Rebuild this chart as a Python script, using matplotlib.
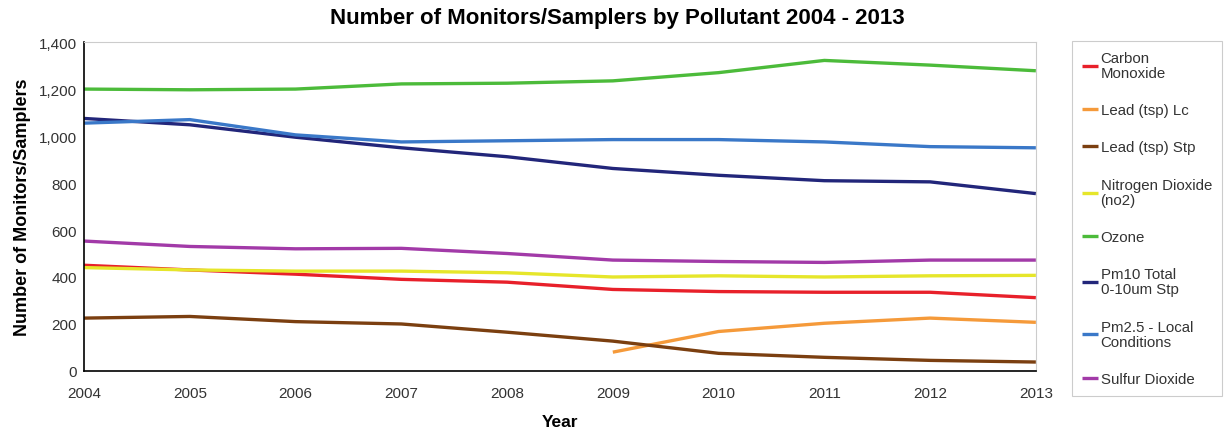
import matplotlib.pyplot as plt

years = [2004, 2005, 2006, 2007, 2008, 2009, 2010, 2011, 2012, 2013]
lead_lc_years = [2009, 2010, 2011, 2012, 2013]

carbon_monoxide = [450, 430, 412, 390, 378, 347, 338, 335, 335, 312]
lead_lc = [80, 168, 203, 225, 207]
lead_stp = [225, 232, 210, 200, 165, 127, 75, 58, 45, 38]
nitrogen_dioxide = [440, 430, 425, 425, 418, 400, 405, 400, 405, 407]
ozone = [1200, 1197, 1200, 1222, 1225, 1235, 1270, 1322, 1302, 1278]
pm10 = [1075, 1048, 995, 950, 912, 862, 833, 810, 805, 755]
pm25 = [1055, 1070, 1005, 975, 980, 985, 985, 975, 955, 950]
sulfur_dioxide = [553, 530, 520, 522, 500, 472, 466, 462, 472, 472]

series = [
    ("Carbon\nMonoxide", years, carbon_monoxide, "#e8202a"),
    ("Lead (tsp) Lc", lead_lc_years, lead_lc, "#f59a3a"),
    ("Lead (tsp) Stp", years, lead_stp, "#7b3f10"),
    ("Nitrogen Dioxide\n(no2)", years, nitrogen_dioxide, "#e6e62a"),
    ("Ozone", years, ozone, "#4cbb3a"),
    ("Pm10 Total\n0-10um Stp", years, pm10, "#22267a"),
    ("Pm2.5 - Local\nConditions", years, pm25, "#3a78c8"),
    ("Sulfur Dioxide", years, sulfur_dioxide, "#a23aa8"),
]

plt.rcParams["font.family"] = ["Liberation Sans", "DejaVu Sans"]

fig = plt.figure(figsize=(12.25, 4.31), dpi=100)
ax = fig.add_axes([0.0686, 0.137, 0.777, 0.763])

for label, xs, ys, color in series:
    ax.plot(xs, ys, color=color, linewidth=2.4, label=label, solid_capstyle="butt")

ax.set_xlim(2004, 2013)
ax.set_ylim(0, 1400)
ax.set_xticks(years)
ax.set_yticks(range(0, 1401, 200))
ax.set_yticklabels([f"{v:,}" for v in range(0, 1401, 200)])
ax.tick_params(length=0, labelsize=11, colors="#333333")
ax.tick_params(axis="x", pad=11)
ax.tick_params(axis="y", pad=5)

for side in ("top", "right"):
    ax.spines[side].set_color("#cccccc")
    ax.spines[side].set_linewidth(0.8)
for side in ("left", "bottom"):
    ax.spines[side].set_color("black")
    ax.spines[side].set_linewidth(1.2)

fig.text(0.504, 0.957, "Number of Monitors/Samplers by Pollutant 2004 - 2013",
         fontsize=16, fontweight="bold", ha="center", va="center")
ax.set_xlabel("Year", fontsize=12.5, fontweight="bold", labelpad=10)
ax.set_ylabel("Number of Monitors/Samplers", fontsize=13, fontweight="bold", labelpad=6)

leg = ax.legend(loc="upper left", bbox_to_anchor=(1.038, 1.003), fontsize=10.8,
                handlelength=1.05, handletextpad=0.2, labelspacing=1.55,
                borderpad=0.65, borderaxespad=0, fancybox=False,
                edgecolor="#cccccc", framealpha=1)
leg.get_frame().set_linewidth(0.8)
for txt in leg.get_texts():
    txt.set_color("#333333")
    txt.set_linespacing(1.1)

fig.savefig("out.png", dpi=100)
